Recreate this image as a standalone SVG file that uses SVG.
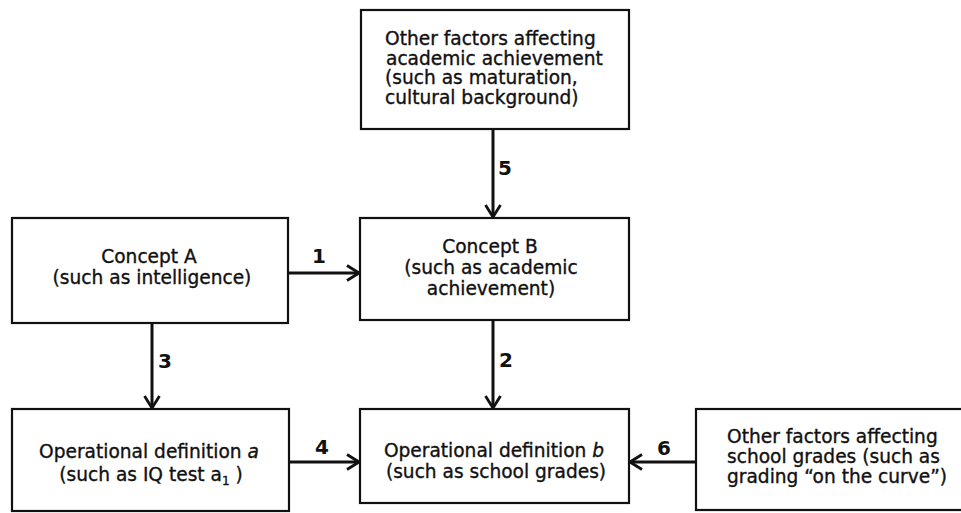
<svg xmlns="http://www.w3.org/2000/svg" width="961" height="513" viewBox="0 0 961 513">
<style>
  .box{fill:#fff;stroke:#111;stroke-width:2.2}
  .t{font-family:"DejaVu Sans",sans-serif;font-size:18.6px;fill:#111;stroke:#111;stroke-width:0.35}
  .c{text-anchor:middle}
  .n{font-family:"DejaVu Sans",sans-serif;font-size:20px;font-weight:bold;fill:#111;text-anchor:middle}
  .conn{stroke:#111;stroke-width:3;fill:none}
</style>
<defs>
  <marker id="ah" markerUnits="userSpaceOnUse" markerWidth="16" markerHeight="18" viewBox="0 0 16 18" refX="14" refY="9" orient="auto">
    <path d="M2,1.5 L14,9 L2,16.5" fill="none" stroke="#111" stroke-width="2.8"/>
  </marker>
</defs>
<rect width="961" height="513" fill="#fff"/>
<g id="other-academic">
  <rect class="box" x="361" y="10" width="268" height="119"/>
  <text class="t" x="385" y="45">Other factors affecting</text>
  <text class="t" x="386" y="64.5">academic achievement</text>
  <text class="t" x="385" y="84">(such as maturation,</text>
  <text class="t" x="385" y="103.5">cultural background)</text>
</g>
<g id="concept-a">
  <rect class="box" x="12" y="218" width="276" height="105"/>
  <text class="t c" x="149" y="263">Concept A</text>
  <text class="t c" x="152" y="284">(such as intelligence)</text>
</g>
<g id="concept-b">
  <rect class="box" x="360" y="218" width="269" height="102"/>
  <text class="t c" x="490" y="253">Concept B</text>
  <text class="t c" x="491" y="274">(such as academic</text>
  <text class="t c" x="491" y="295">achievement)</text>
</g>
<g id="opdef-a">
  <rect class="box" x="12" y="409" width="277" height="102"/>
  <text class="t c" x="149" y="458">Operational definition <tspan font-style="italic">a</tspan></text>
  <text class="t c" x="151" y="481">(such as IQ test a<tspan font-size="12" dy="4">1</tspan><tspan dy="-4"> )</tspan></text>
</g>
<g id="opdef-b">
  <rect class="box" x="360" y="409" width="269" height="94"/>
  <text class="t c" x="494" y="457">Operational definition <tspan font-style="italic">b</tspan></text>
  <text class="t c" x="496" y="478">(such as school grades)</text>
</g>
<g id="other-grades">
  <rect class="box" x="696" y="409" width="270" height="101"/>
  <text class="t" x="727" y="443">Other factors affecting</text>
  <text class="t" x="727" y="463">school grades (such as</text>
  <text class="t" x="727" y="483">grading “on the curve”)</text>
</g>
<g id="connectors">
  <line class="conn" x1="493" y1="129" x2="493" y2="217" marker-end="url(#ah)"/>
  <line class="conn" x1="288" y1="273" x2="359" y2="273" marker-end="url(#ah)"/>
  <line class="conn" x1="152" y1="323" x2="152" y2="408" marker-end="url(#ah)"/>
  <line class="conn" x1="493" y1="320" x2="493" y2="408" marker-end="url(#ah)"/>
  <line class="conn" x1="289" y1="462" x2="359" y2="462" marker-end="url(#ah)"/>
  <line class="conn" x1="696" y1="462" x2="630" y2="462" marker-end="url(#ah)"/>
  <text class="n" x="505" y="175">5</text>
  <text class="n" x="319" y="263">1</text>
  <text class="n" x="165" y="368">3</text>
  <text class="n" x="506" y="367">2</text>
  <text class="n" x="322" y="454">4</text>
  <text class="n" x="664" y="455">6</text>
</g>
</svg>
